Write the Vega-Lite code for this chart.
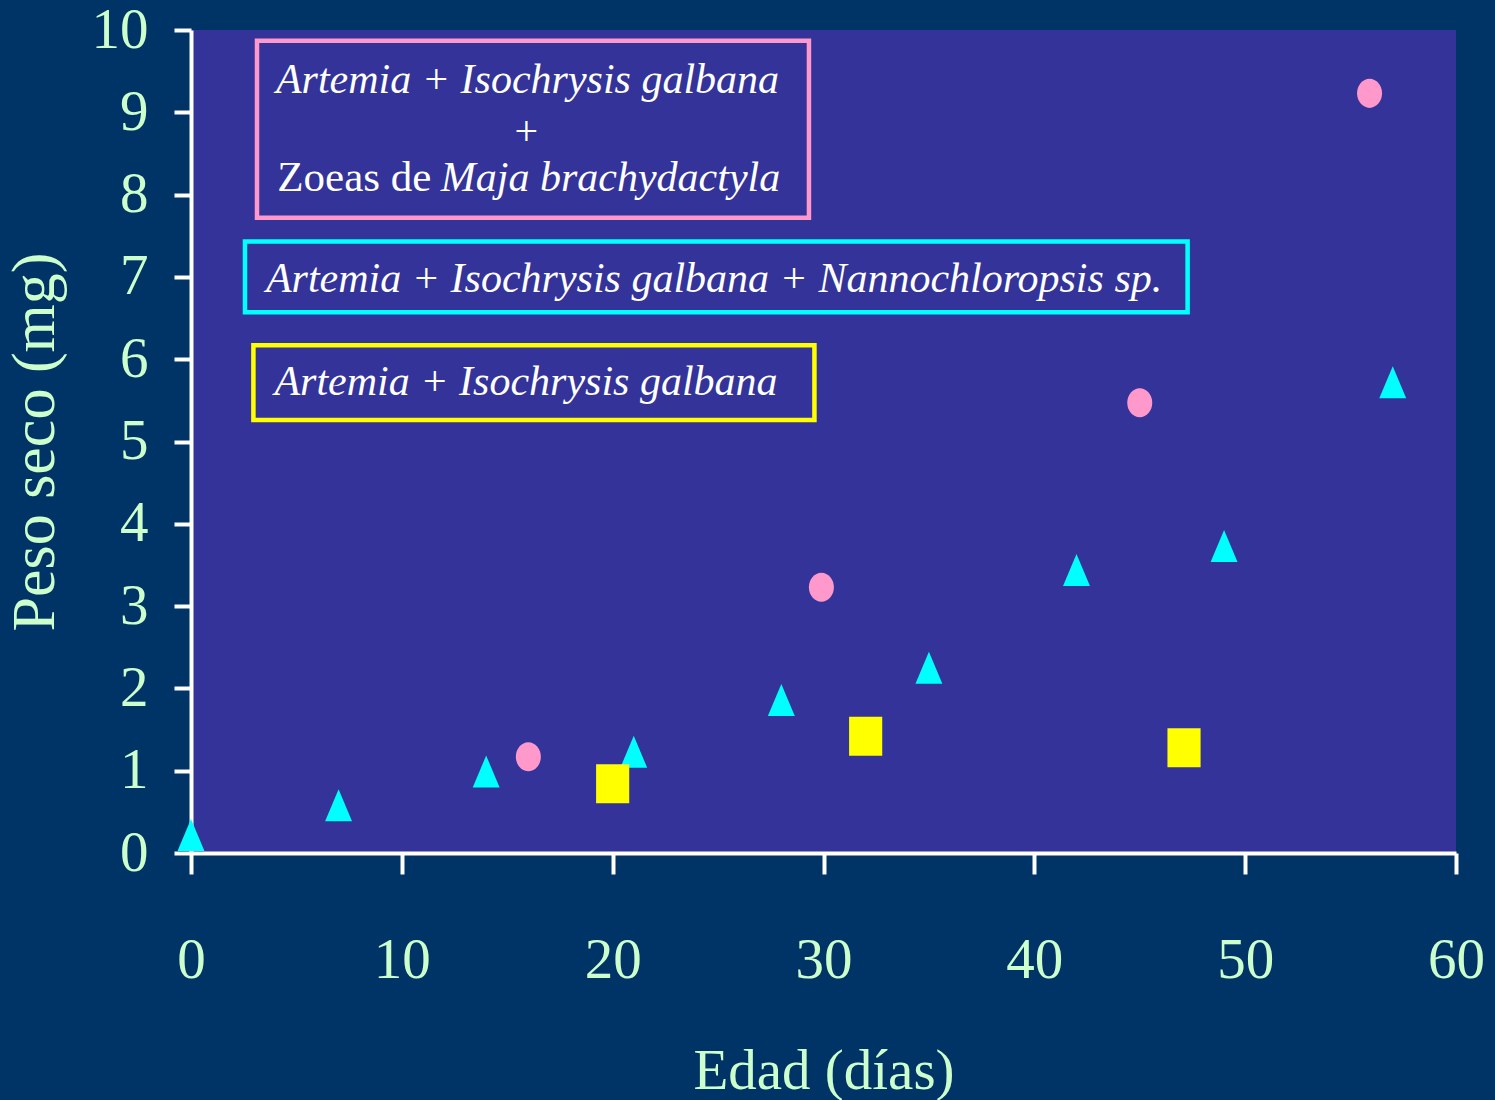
{
  "$schema": "https://vega.github.io/schema/vega-lite/v6.json",
  "width": 1265,
  "height": 823,
  "autosize": {"type": "none"},
  "padding": {"left": 191, "top": 30, "right": 39, "bottom": 247},
  "background": "#003366",
  "config": {
    "view": {"stroke": null, "fill": "#333399"},
    "font": "Liberation Serif"
  },
  "datasets": {
    "puntos": [
      {"dieta": "Artemia + I. galbana + zoeas de M. brachydactyla", "edad": 16, "peso": 1.17},
      {"dieta": "Artemia + I. galbana + zoeas de M. brachydactyla", "edad": 29.9, "peso": 3.23},
      {"dieta": "Artemia + I. galbana + zoeas de M. brachydactyla", "edad": 45, "peso": 5.47},
      {"dieta": "Artemia + I. galbana + zoeas de M. brachydactyla", "edad": 55.9, "peso": 9.23},
      {"dieta": "Artemia + I. galbana + Nannochloropsis sp.", "edad": 0, "peso": 0.22},
      {"dieta": "Artemia + I. galbana + Nannochloropsis sp.", "edad": 7, "peso": 0.58},
      {"dieta": "Artemia + I. galbana + Nannochloropsis sp.", "edad": 14, "peso": 0.99},
      {"dieta": "Artemia + I. galbana + Nannochloropsis sp.", "edad": 21, "peso": 1.23},
      {"dieta": "Artemia + I. galbana + Nannochloropsis sp.", "edad": 28, "peso": 1.86},
      {"dieta": "Artemia + I. galbana + Nannochloropsis sp.", "edad": 35, "peso": 2.25},
      {"dieta": "Artemia + I. galbana + Nannochloropsis sp.", "edad": 42, "peso": 3.44},
      {"dieta": "Artemia + I. galbana + Nannochloropsis sp.", "edad": 49, "peso": 3.73},
      {"dieta": "Artemia + I. galbana + Nannochloropsis sp.", "edad": 57, "peso": 5.72},
      {"dieta": "Artemia + I. galbana", "edad": 20, "peso": 0.84},
      {"dieta": "Artemia + I. galbana", "edad": 32, "peso": 1.42},
      {"dieta": "Artemia + I. galbana", "edad": 47.1, "peso": 1.28}
    ],
    "cajas": [
      {"dieta": "Artemia + I. galbana + zoeas de M. brachydactyla", "x1": 3.13, "x2": 29.31, "y1": 9.87, "y2": 7.72},
      {"dieta": "Artemia + I. galbana + Nannochloropsis sp.", "x1": 2.56, "x2": 47.27, "y1": 7.43, "y2": 6.57},
      {"dieta": "Artemia + I. galbana", "x1": 2.96, "x2": 29.57, "y1": 6.17, "y2": 5.26}
    ],
    "textos_cursiva": [
      {"texto": "Artemia + Isochrysis galbana", "x": 15.96, "y": 9.23},
      {"texto": "Artemia + Isochrysis galbana + Nannochloropsis sp.", "x": 24.81, "y": 6.82},
      {"texto": "Artemia + Isochrysis galbana", "x": 15.89, "y": 5.565}
    ],
    "texto_mas": [
      {"texto": "+", "x": 15.9, "y": 8.6}
    ],
    "texto_zoeas": [
      {"texto": "Zoeas de", "x": 11.4, "y": 8.04}
    ],
    "texto_maja": [
      {"texto": "Maja brachydactyla", "x": 11.85, "y": 8.04}
    ]
  },
  "layer": [
    {
      "data": {"name": "puntos"},
      "mark": {"type": "point", "filled": true, "opacity": 1, "size": 1521, "strokeWidth": 0},
      "encoding": {
        "x": {
          "field": "edad", "type": "quantitative",
          "scale": {"domain": [0, 60], "nice": false, "zero": false},
          "axis": {
            "title": "Edad (días)",
            "values": [0, 10, 20, 30, 40, 50, 60],
            "format": "d",
            "grid": false,
            "domainColor": "#FFFFFF", "domainWidth": 4,
            "tickColor": "#FFFFFF", "tickWidth": 4, "tickSize": 21,
            "labelFont": "Liberation Serif", "labelFontSize": 57, "labelColor": "#CCFFCC",
            "labelBaseline": "alphabetic", "labelPadding": 103,
            "labelFlush": false, "labelOverlap": false, "labelBound": false,
            "titleFont": "Liberation Serif", "titleFontSize": 57, "titleFontWeight": "normal", "titleColor": "#CCFFCC",
            "titleX": 632.5, "titleY": 235, "titleBaseline": "alphabetic", "titleAlign": "center"
          }
        },
        "y": {
          "field": "peso", "type": "quantitative",
          "scale": {"domain": [0, 10], "nice": false, "zero": false},
          "axis": {
            "title": "Peso seco (mg)",
            "values": [0, 1, 2, 3, 4, 5, 6, 7, 8, 9, 10],
            "format": "d",
            "grid": false,
            "domainColor": "#FFFFFF", "domainWidth": 4,
            "tickColor": "#FFFFFF", "tickWidth": 4, "tickSize": 17,
            "labelFont": "Liberation Serif", "labelFontSize": 57, "labelColor": "#CCFFCC",
            "labelBaseline": "middle", "labelPadding": 26,
            "labelFlush": false, "labelOverlap": false, "labelBound": false,
            "titleFont": "Liberation Serif", "titleFontSize": 62, "titleFontWeight": "normal", "titleColor": "#CCFFCC",
            "titleX": -138, "titleY": 411.5, "titleBaseline": "alphabetic", "titleAlign": "center", "titleAngle": -90
          }
        },
        "color": {
          "field": "dieta", "type": "nominal", "legend": null,
          "scale": {
            "domain": ["Artemia + I. galbana + zoeas de M. brachydactyla", "Artemia + I. galbana + Nannochloropsis sp.", "Artemia + I. galbana"],
            "range": ["#FF99CC", "#00FFFF", "#FFFF00"]
          }
        },
        "shape": {
          "field": "dieta", "type": "nominal", "legend": null,
          "scale": {
            "domain": ["Artemia + I. galbana + zoeas de M. brachydactyla", "Artemia + I. galbana + Nannochloropsis sp.", "Artemia + I. galbana"],
            "range": [
              "M-0.641,0A0.641,0.744,0,1,0,0.641,0A0.641,0.744,0,1,0,-0.641,0Z",
              "M0,-0.82L0.69,0.82L-0.69,0.82Z",
              "M-0.85,-1H0.85V1H-0.85Z"
            ]
          }
        }
      }
    },
    {
      "data": {"name": "cajas"},
      "mark": {"type": "rect", "filled": false, "strokeWidth": 4.5, "opacity": 1},
      "encoding": {
        "x": {"field": "x1", "type": "quantitative"},
        "x2": {"field": "x2"},
        "y": {"field": "y1", "type": "quantitative"},
        "y2": {"field": "y2"},
        "color": {"field": "dieta", "type": "nominal", "legend": null}
      }
    },
    {
      "data": {"name": "textos_cursiva"},
      "mark": {"type": "text", "fontSize": 42, "fontStyle": "italic", "color": "#FFFFFF", "align": "center", "baseline": "alphabetic"},
      "encoding": {
        "x": {"field": "x", "type": "quantitative"},
        "y": {"field": "y", "type": "quantitative"},
        "text": {"field": "texto"}
      }
    },
    {
      "data": {"name": "texto_mas"},
      "mark": {"type": "text", "fontSize": 42, "color": "#FFFFFF", "align": "center", "baseline": "alphabetic"},
      "encoding": {
        "x": {"field": "x", "type": "quantitative"},
        "y": {"field": "y", "type": "quantitative"},
        "text": {"field": "texto"}
      }
    },
    {
      "data": {"name": "texto_zoeas"},
      "mark": {"type": "text", "fontSize": 43, "color": "#FFFFFF", "align": "right", "baseline": "alphabetic"},
      "encoding": {
        "x": {"field": "x", "type": "quantitative"},
        "y": {"field": "y", "type": "quantitative"},
        "text": {"field": "texto"}
      }
    },
    {
      "data": {"name": "texto_maja"},
      "mark": {"type": "text", "fontSize": 42, "fontStyle": "italic", "color": "#FFFFFF", "align": "left", "baseline": "alphabetic"},
      "encoding": {
        "x": {"field": "x", "type": "quantitative"},
        "y": {"field": "y", "type": "quantitative"},
        "text": {"field": "texto"}
      }
    }
  ]
}
